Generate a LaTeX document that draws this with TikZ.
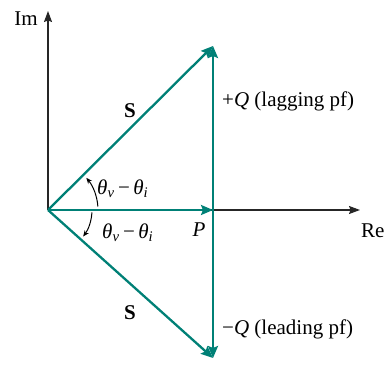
\documentclass[tikz,border=0pt]{standalone}
\usepackage{fontspec}
\setmainfont{Liberation Serif}
\usetikzlibrary{arrows.meta}
\definecolor{teal1}{RGB}{0,128,118}
\tikzset{
  axis/.style={draw=black!85, line width=1.1pt, -{Stealth[length=11pt,width=8pt,inset=1.5pt]}},
  vec/.style={draw=teal1, line width=2.3pt, -{Stealth[length=12pt,width=10pt,inset=2pt]}},
  arc/.style={draw=black, line width=1pt, -{Stealth[length=6pt,width=5pt]}},
  lbl/.style={inner sep=0pt, font=\fontsize{21}{24}\selectfont}
}
\newcommand{\thv}{{\itshape θ}\textsubscript{\itshape v}\,−\,{\itshape θ}\textsubscript{\itshape i}}
\begin{document}
\begin{tikzpicture}[x=1pt,y=-1pt]
\useasboundingbox (0,0) rectangle (388,371);
\coordinate (O) at (48,210);
\coordinate (imtop) at (48,11);
\coordinate (reend) at (360,210);
\coordinate (T) at (213,46);
\coordinate (B) at (213,358);
\coordinate (Pc) at (213,210);
\draw[axis] (O) -- (imtop);
\draw[axis] (O) -- (reend);
\draw[vec] (O) -- (Pc);
\draw[vec] (O) -- (T);
\draw[vec] (O) -- (B);
\draw[vec] (Pc) -- (T);
\draw[vec] (Pc) -- (B);
\draw[arc] (O) ++(3:44) arc[start angle=3, end angle=37, radius=44];
\draw[arc] (O) ++(-4:50) arc[start angle=-4, end angle=-40, radius=50];
\node[lbl, anchor=east] (im) at (38,19) {Im};
\node[lbl, anchor=west] (re) at (361,231) {Re};
\node[lbl] (s1) at (130,111) {\textbf{S}};
\node[lbl] (s2) at (130,313) {\textbf{S}};
\node[lbl, anchor=west] (th1) at (97,189) {\thv};
\node[lbl, anchor=west] (th2) at (102,233) {\thv};
\node[lbl] (p) at (199,230) {\itshape P};
\node[lbl, anchor=west] (q1) at (222,101) {+{\itshape Q} (lagging pf)};
\node[lbl, anchor=west] (q2) at (222,329) {−{\itshape Q} (leading pf)};
\end{tikzpicture}
\end{document}
